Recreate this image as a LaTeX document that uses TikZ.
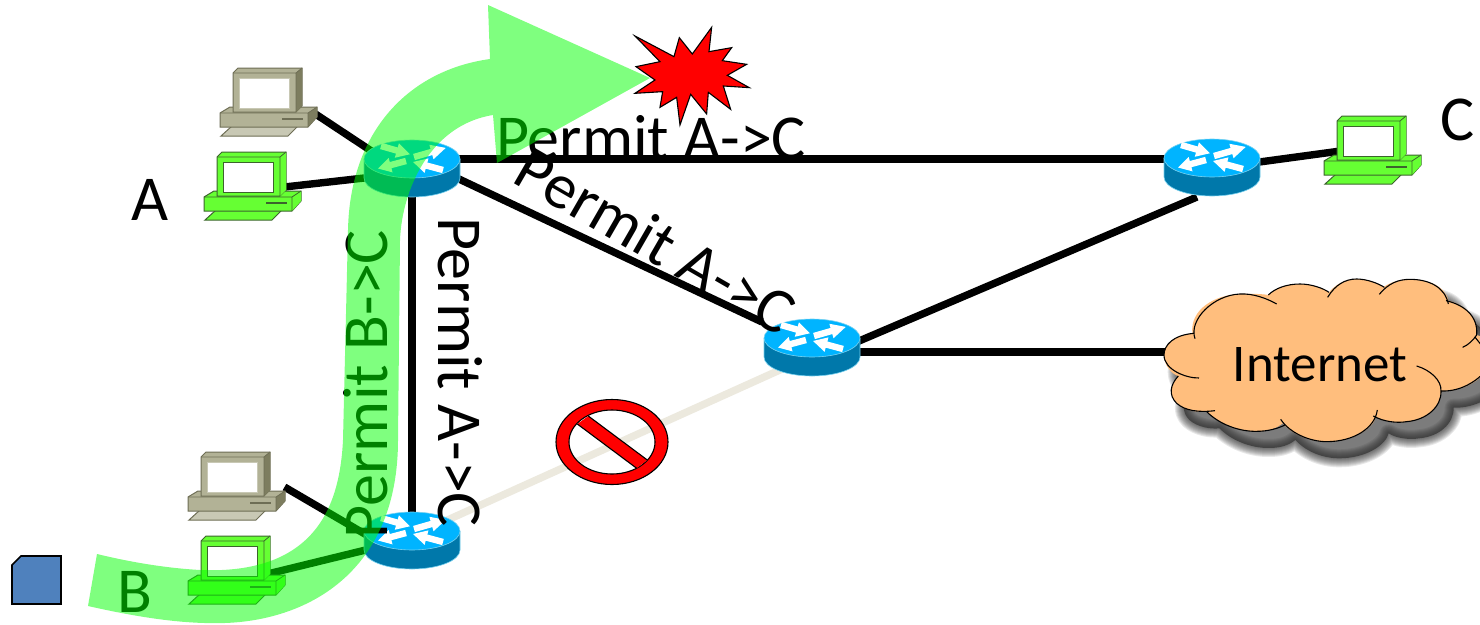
\documentclass[tikz,border=0pt]{standalone}
\usepackage{fontspec}
\setmainfont{Carlito}
\usetikzlibrary{calc}
\definecolor{rtop}{RGB}{0,180,255}
\definecolor{rside}{RGB}{0,120,170}
\definecolor{redge}{RGB}{120,210,240}
\definecolor{deadlink}{RGB}{236,233,222}
\definecolor{cloudfill}{RGB}{255,190,125}
\definecolor{snipblue}{RGB}{79,129,189}
\definecolor{gnbody}{RGB}{102,255,51}
\definecolor{gnedge}{RGB}{60,100,45}
\definecolor{gnkey}{RGB}{102,255,51}
\definecolor{bgbody}{RGB}{178,178,150}
\definecolor{bgedge}{RGB}{110,110,85}
\definecolor{bgkey}{RGB}{200,200,180}
\definecolor{bgside}{RGB}{125,125,95}
\newcommand{\cloudfillpath}{(162,220) .. controls (100,225) and (72,255) .. (72,285) .. controls (72,320) and (100,345) .. (115,348)
 .. controls (90,375) and (85,405) .. (110,430) .. controls (135,452) and (175,458) .. (200,455)
 .. controls (240,495) and (300,515) .. (350,514) .. controls (385,514) and (410,505) .. (428,490)
 .. controls (460,525) and (510,545) .. (560,545) .. controls (640,545) and (700,505) .. (708,470)
 .. controls (730,485) and (770,490) .. (800,485) .. controls (860,480) and (905,440) .. (903,393)
 .. controls (950,395) and (1010,375) .. (1040,330) -- (1040,235) -- (1010,225)
 .. controls (1015,170) and (975,135) .. (925,122)
 .. controls (915,75) and (860,58) .. (810,58) .. controls (775,58) and (745,70) .. (730,82)
 .. controls (700,62) and (670,57) .. (650,57) .. controls (615,57) and (585,75) .. (567,97)
 .. controls (535,78) and (510,72) .. (480,72) .. controls (440,72) and (405,85) .. (385,105)
 .. controls (355,100) and (320,102) .. (300,102) .. controls (220,105) and (150,150) .. (157,220) -- cycle}
\tikzset{
 x=1pt,y=-1pt,
 linkline/.style={line width=7.4pt,draw=black},
 deadline/.style={line width=7.4pt,draw=deadlink},
 biglabel/.style={font=\fontsize{64}{68}\selectfont,inner sep=0pt,anchor=center},
 routerbox/.style={minimum width=96pt,minimum height=57pt,inner sep=0pt,draw=none},
 pcbox/.style={minimum width=97pt,minimum height=68pt,inner sep=0pt,draw=none},
 pics/routericon/.style={code={
   \fill[rside] (-48,0) -- (-48,19) .. controls (-48,29.5) and (-26.5,38) .. (0,38) .. controls (26.5,38) and (48,29.5) .. (48,19) -- (48,0) -- cycle;
   \draw[redge,line width=0.6pt] (-48,0) -- (-48,19) .. controls (-48,29.5) and (-26.5,38) .. (0,38) .. controls (26.5,38) and (48,29.5) .. (48,19) -- (48,0);
   \fill[rtop] (0,0) ellipse [x radius=48pt,y radius=19pt];
   \draw[redge,line width=0.6pt] (0,0) ellipse [x radius=48pt,y radius=19pt];
   \foreach \tx/\ty/\ang/\len in {-31/-13/-16/30, 2/-2/16/33, -6/2/195/29, 31/11/165/31}{
     \fill[white,shift={(\tx,\ty)},rotate=\ang] (0,-3.2) -- (0.55*\len,-3.2) -- (0.55*\len,-7.5) -- (\len,0) -- (0.55*\len,7.5) -- (0.55*\len,3.2) -- (0,3.2) -- cycle;
   }
 }},
 pics/pcicon/.style n args={5}{code={
   \draw[draw=#2,line width=1pt,fill=#3] (1,68) -- (12,58) -- (78,58) -- (68,68) -- cycle;
   \draw[draw=#2,line width=1pt,fill=#1] (0,45) -- (10,39) -- (97,39) -- (97,49) -- (88,59) -- (0,59) -- cycle;
   \fill[#4] (88,45) -- (97,39) -- (97,49) -- (88,59) -- cycle;
   \draw[draw=#2,line width=0.8pt] (0,45) -- (88,45) -- (97,39) (88,45) -- (88,59);
   \draw[draw=#2,line width=1.1pt] (62,51) -- (83,51);
   \draw[draw=#2,line width=1pt,fill=#1] (13,5) -- (18,0) -- (82,0) -- (82,38) -- (76,44) -- (13,44) -- cycle;
   \fill[#4] (76,5) -- (82,0) -- (82,38) -- (76,44) -- cycle;
   \draw[draw=#2,line width=0.8pt] (13,5) -- (76,5) -- (82,0) (76,5) -- (76,44);
   \draw[draw=#5,line width=1pt,fill=white] (19,10) -- (69,10) -- (69,40) -- (19,40) -- cycle;
 }},
}
\begin{document}
\begin{tikzpicture}
\useasboundingbox (0,0) rectangle (1480,624);
\fill[white] (0,0) rectangle (1480,624);
% nodes
\node[routerbox] (r1) at (412,168) {};
\node[routerbox] (r2) at (812,347) {};
\node[routerbox] (r3) at (412,540) {};
\node[routerbox] (r4) at (1212,167) {};
\node[pcbox] (pcA0) at (268.5,102) {};
\node[pcbox] (pcA) at (252.5,186) {};
\node[pcbox] (pcB0) at (236.5,486) {};
\node[pcbox] (pcB) at (236.5,570) {};
\node[pcbox] (pcC) at (1372.5,150) {};
\node[inner sep=0pt] (net) at (1320,365) {};
% connector ports
\coordinate (r1e) at ($(r1)+(40,-9)$);
\coordinate (r4w) at ($(r4)+(-40,-8)$);
\coordinate (r1se) at ($(r1)+(30,3)$);
\coordinate (r2nw) at ($(r2)+(-50,-25)$);
\coordinate (r1s) at ($(r1)+(0,20)$);
\coordinate (r3n) at ($(r3)+(0,-20)$);
\coordinate (r3ne) at ($(r3)+(20,-13)$);
\coordinate (r2sw) at ($(r2)+(-30,22)$);
\coordinate (r2ne) at ($(r2)+(40,-3)$);
\coordinate (r4sw) at ($(r4)+(-15,30)$);
\coordinate (r2e) at ($(r2)+(40,5)$);
\coordinate (netw) at ($(net)+(-140,-13)$);
\coordinate (r4e) at ($(r4)+(40,-4)$);
\coordinate (pcCw) at ($(pcC)+(-32,1)$);
\coordinate (a0p) at ($(pcA0)+(47,12)$);
\coordinate (a0r) at ($(r1)+(-30,-10)$);
\coordinate (ap) at ($(pcA)+(32,1)$);
\coordinate (ar) at ($(r1)+(-30,8)$);
\coordinate (b0p) at ($(pcB0)+(48,1)$);
\coordinate (b0r) at ($(r3)+(-30,4)$);
\coordinate (bp) at ($(pcB)+(31,4)$);
\coordinate (br) at ($(r3)+(-30,6)$);
% links
\draw[linkline] (r1e) -- (r4w);
\draw[linkline] (r1se) -- (r2nw);
\draw[linkline] (r1s) -- (r3n);
\draw[deadline] (r3ne) -- (r2sw);
\draw[linkline] (r2ne) -- (r4sw);
\draw[linkline] (r2e) -- (netw);
\draw[linkline] (r4e) -- (pcCw);
\draw[linkline] (a0p) -- (a0r);
\draw[linkline] (ap) -- (ar);
\draw[linkline] (b0p) -- (b0r);
\draw[linkline] (bp) -- (br);
% routers
\pic at (412,159) {routericon};
\pic at (812,338) {routericon};
\pic at (412,531) {routericon};
\pic at (1212,158) {routericon};
% computers
\pic at (220,68) {pcicon={bgbody}{bgedge}{bgkey}{bgside}{bgkey}};
\pic at (188,452) {pcicon={bgbody}{bgedge}{bgkey}{bgside}{bgkey}};
\pic at (204,152) {pcicon={gnbody}{gnedge}{gnkey}{gnbody}{gnedge}};
\pic at (188,536) {pcicon={gnbody}{gnedge}{gnkey}{gnbody}{gnedge}};
\pic at (1324,116) {pcicon={gnbody}{gnedge}{gnkey}{gnbody}{gnedge}};
% cloud
\begin{scope}[shift={(1140,260)},x=0.3333pt,y=-0.3333pt]
 \begin{scope}[shift={(38,50)}]
  \fill[black!85,opacity=0.6] \cloudfillpath;
  \foreach \w in {54,48,42,36,30,24,18,12,6}{
    \draw[black!85,opacity=0.1,line width=\w*0.3333pt,line join=round] \cloudfillpath;
  }
 \end{scope}
 \fill[cloudfill] \cloudfillpath;
 \draw[black,line width=1.1pt]
  (177,354) .. controls (140,355) and (72,330) .. (72,285) .. controls (72,255) and (100,225) .. (162,220)
  (165,236) .. controls (145,180) and (220,105) .. (300,102) .. controls (340,100) and (380,115) .. (410,132)
  (385,105) .. controls (405,85) and (440,72) .. (480,72) .. controls (515,72) and (550,85) .. (567,97)
  (563,112) .. controls (585,75) and (615,57) .. (650,57) .. controls (680,57) and (715,70) .. (733,82)
  (718,103) .. controls (745,70) and (775,58) .. (810,58) .. controls (865,58) and (915,80) .. (925,132)
  (918,122) .. controls (975,135) and (1015,170) .. (1010,225) .. controls (1000,240) and (985,255) .. (968,262)
  (1004,230) .. controls (1015,245) and (1030,260) .. (1040,280)
  (830,318) .. controls (870,330) and (905,360) .. (903,393) .. controls (905,440) and (860,480) .. (800,485) .. controls (770,490) and (730,485) .. (700,468)
  (903,393) .. controls (950,395) and (1000,375) .. (1040,330)
  (712,450) .. controls (705,505) and (640,545) .. (560,545) .. controls (510,545) and (450,520) .. (422,478)
  (435,495) .. controls (415,505) and (385,514) .. (350,514) .. controls (300,515) and (240,495) .. (200,455)
  (225,452) .. controls (175,458) and (135,452) .. (110,430) .. controls (85,405) and (90,375) .. (115,348);
\end{scope}
% no-entry sign
\fill[red,even odd rule] (612,442) ellipse [x radius=56pt,y radius=42.5pt] (612,442) ellipse [x radius=43pt,y radius=32pt];
\draw[black,line width=1.1pt] (612,442) ellipse [x radius=56pt,y radius=42.5pt];
\draw[black,line width=1.1pt] (612,442) ellipse [x radius=43pt,y radius=32pt];
\fill[red] (577.3,424) -- (588.3,416) -- (647.3,460) -- (636.7,468.3) -- cycle;
\draw[black,line width=1.1pt] (577.3,424) -- (636.7,468.3) (588.3,416) -- (647.3,460);
% explosion star
\begin{scope}[shift={(480,0)},x=0.3333pt,y=-0.3333pt]
 \draw[black,line width=1.1pt,fill=red,line join=miter] (465,108) -- (582,170) -- (598,113) -- (637,162) -- (695,82) -- (687,155) -- (755,143) -- (727,182) -- (800,193) -- (742,226) -- (808,263) -- (730,258) -- (752,328) -- (685,277) -- (680,342) -- (632,283) -- (600,375) -- (590,292) -- (540,322) -- (548,275) -- (465,280) -- (525,240) -- (468,200) -- (540,185) -- cycle;
\end{scope}
% labels
\node[biglabel] (lA) at (150,200) {A};
\node[biglabel] (lB) at (135,592) {B};
\node[biglabel] (lC) at (1458,120) {C};
\node[biglabel,font=\fontsize{53}{57}\selectfont] (lnet) at (net) {Internet};
\node[biglabel] (t1) at (651,138) {Permit A->C};
\node[biglabel,rotate=-30] (t2) at (656,240) {Permit A->C};
\node[biglabel,rotate=-90] (t3) at (460,372) {Permit A->C};
\node[biglabel,rotate=90] (t4) at (366,384) {Permit B->C};
% blue snipped square
\draw[black,line width=1.6pt,fill=snipblue] (12,565) -- (21,556) -- (61,556) -- (61,604) -- (12,604) -- cycle;
% translucent arrow
\fill[green,opacity=0.5] (88,606) .. controls (150,620) and (190,624) .. (225,623) .. controls (310,620) and (398,570) .. (398,440) -- (400,240) .. controls (402,190) and (430,125) .. (493,115) -- (497,163) -- (650,78) -- (488,5) -- (490,59) .. controls (410,70) and (350,130) .. (348,230) -- (343,440) .. controls (340,500) and (320,575) .. (200,570) .. controls (165,568) and (130,562) .. (97,554) -- cycle;
\end{tikzpicture}
\end{document}
